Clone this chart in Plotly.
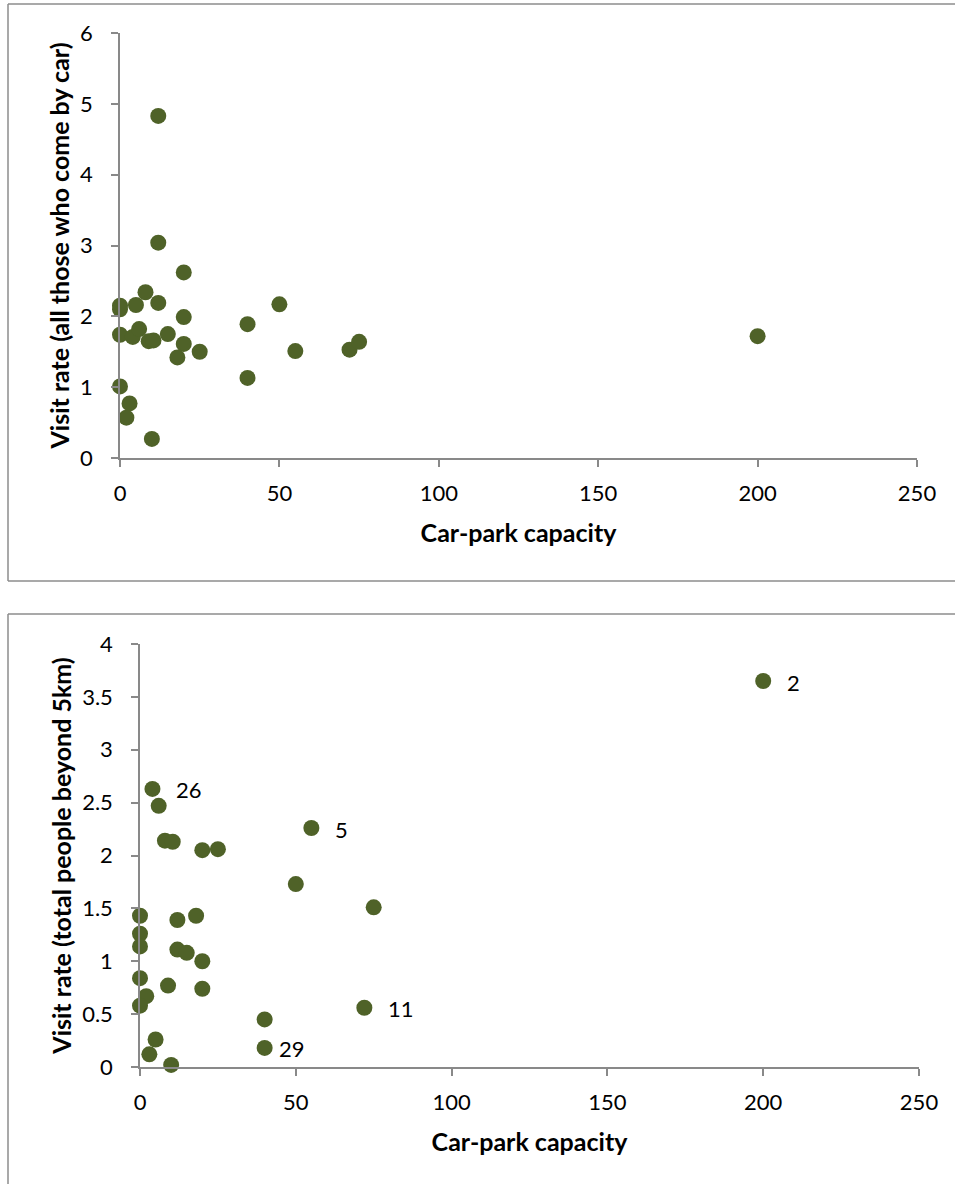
import plotly.graph_objects as go

# ---- Data: top chart (visit rate, all those who come by car) ----
top_capacity = [12, 12, 20, 8, 0, 0, 5, 12, 50, 20, 40, 0, 4, 6, 9, 10.5,
                15, 20, 18, 25, 55, 72, 75, 40, 0, 3, 2, 10, 200]
top_rate = [4.83, 3.04, 2.62, 2.34, 2.15, 2.10, 2.16, 2.19, 2.17, 1.99, 1.89,
            1.74, 1.71, 1.82, 1.65, 1.66, 1.75, 1.61, 1.42, 1.50, 1.51, 1.53,
            1.64, 1.13, 1.01, 0.77, 0.57, 0.27, 1.72]

# ---- Data: bottom chart (visit rate, total people beyond 5km) ----
bot_capacity = [4, 6, 8, 10.5, 20, 25, 55, 50, 75, 0, 12, 18, 0, 0, 12, 15,
                20, 0, 9, 20, 2, 0, 72, 40, 40, 5, 3, 10, 200]
bot_rate = [2.63, 2.47, 2.14, 2.13, 2.05, 2.06, 2.26, 1.73, 1.51, 1.43, 1.39,
            1.43, 1.26, 1.14, 1.11, 1.08, 1.00, 0.84, 0.77, 0.74, 0.67, 0.58,
            0.56, 0.45, 0.18, 0.26, 0.12, 0.02, 3.65]
bot_labels = ["26", "", "", "", "", "", "5", "", "", "", "", "", "", "", "",
              "", "", "", "", "", "", "", "11", "", "29", "", "", "", "2"]

x_ticks = [0, 50, 100, 150, 200, 250]
top_y_ticks = [0, 1, 2, 3, 4, 5, 6]
bot_y_ticks = [0, 0.5, 1, 1.5, 2, 2.5, 3, 3.5, 4]
bot_y_ticktext = ["0", "0.5", "1", "1.5", "2", "2.5", "3", "3.5", "4"]

W, H = 955, 1184
MARKER = "#4F6228"
AXIS = "#898989"
BORDER = "#8c8c8c"
FONT = "Lato, Calibri, Arial, sans-serif"
TICK_SIZE = 22
TITLE_SIZE = 25

def px(v):
    return v / W

def py(v):
    return 1 - v / H

fig = go.Figure()
fig.add_trace(go.Scatter(x=top_capacity, y=top_rate, mode="markers",
                         marker=dict(color=MARKER, size=16),
                         xaxis="x", yaxis="y", cliponaxis=False,
                         showlegend=False))
fig.add_trace(go.Scatter(x=bot_capacity, y=bot_rate, mode="markers",
                         marker=dict(color=MARKER, size=16),
                         xaxis="x2", yaxis="y2", cliponaxis=False,
                         showlegend=False))

annotations = []
for xv, yv, lab in zip(bot_capacity, bot_rate, bot_labels):
    if lab:
        shift = 12 if lab == "29" else 22
        annotations.append(dict(x=xv, y=yv, xref="x2", yref="y2", text=lab,
                                showarrow=False, xanchor="left",
                                xshift=shift, yshift=-1,
                                font=dict(family=FONT, size=TICK_SIZE,
                                          color="black")))

axis_common = dict(showline=True, linecolor=AXIS, linewidth=1.5,
                   ticks="outside", ticklen=7, tickwidth=1.5, tickcolor=AXIS,
                   showgrid=False, zeroline=False, mirror=False,
                   automargin=False,
                   tickfont=dict(family=FONT, size=TICK_SIZE, color="black"))

title_font = dict(family=FONT, size=TITLE_SIZE, color="black")

fig.update_layout(
    template="none",
    width=W, height=H, autosize=False,
    margin=dict(l=0, r=0, t=0, b=0, pad=0, autoexpand=False),
    paper_bgcolor="white", plot_bgcolor="white",
    xaxis=dict(domain=[px(120), px(917)], range=[0, 250], tickvals=x_ticks,
               anchor="y", ticklabelstandoff=8,
               title=dict(text="<b>Car-park capacity</b>", standoff=19,
                          font=title_font),
               **axis_common),
    yaxis=dict(domain=[py(458), py(33)], range=[0, 6], tickvals=top_y_ticks,
               anchor="x", ticklabelstandoff=14,
               title=dict(text="<b>Visit rate (all those who come by car)</b>",
                          standoff=3, font=title_font),
               **axis_common),
    xaxis2=dict(domain=[px(140), px(919)], range=[0, 250], tickvals=x_ticks,
                anchor="y2", ticklabelstandoff=8,
                title=dict(text="<b>Car-park capacity</b>", standoff=19,
                           font=title_font),
                **axis_common),
    yaxis2=dict(domain=[py(1067), py(644)], range=[0, 4], tickvals=bot_y_ticks,
                ticktext=bot_y_ticktext, anchor="x2", ticklabelstandoff=14,
                title=dict(text="<b>Visit rate (total people beyond 5km)</b>",
                           standoff=3, font=title_font),
                **axis_common),
    annotations=annotations,
    shapes=[
        dict(type="line", xref="paper", yref="paper",
             x0=px(8), x1=1, y0=py(4), y1=py(4),
             line=dict(color=BORDER, width=1.5)),
        dict(type="line", xref="paper", yref="paper",
             x0=px(8), x1=px(8), y0=py(4), y1=py(581),
             line=dict(color=BORDER, width=1.5)),
        dict(type="line", xref="paper", yref="paper",
             x0=px(8), x1=1, y0=py(581), y1=py(581),
             line=dict(color=BORDER, width=1.5)),
        dict(type="line", xref="paper", yref="paper",
             x0=px(8), x1=1, y0=py(614), y1=py(614),
             line=dict(color=BORDER, width=1.5)),
        dict(type="line", xref="paper", yref="paper",
             x0=px(8), x1=px(8), y0=py(614), y1=0,
             line=dict(color=BORDER, width=1.5)),
    ],
)

fig.write_html("out.html")
